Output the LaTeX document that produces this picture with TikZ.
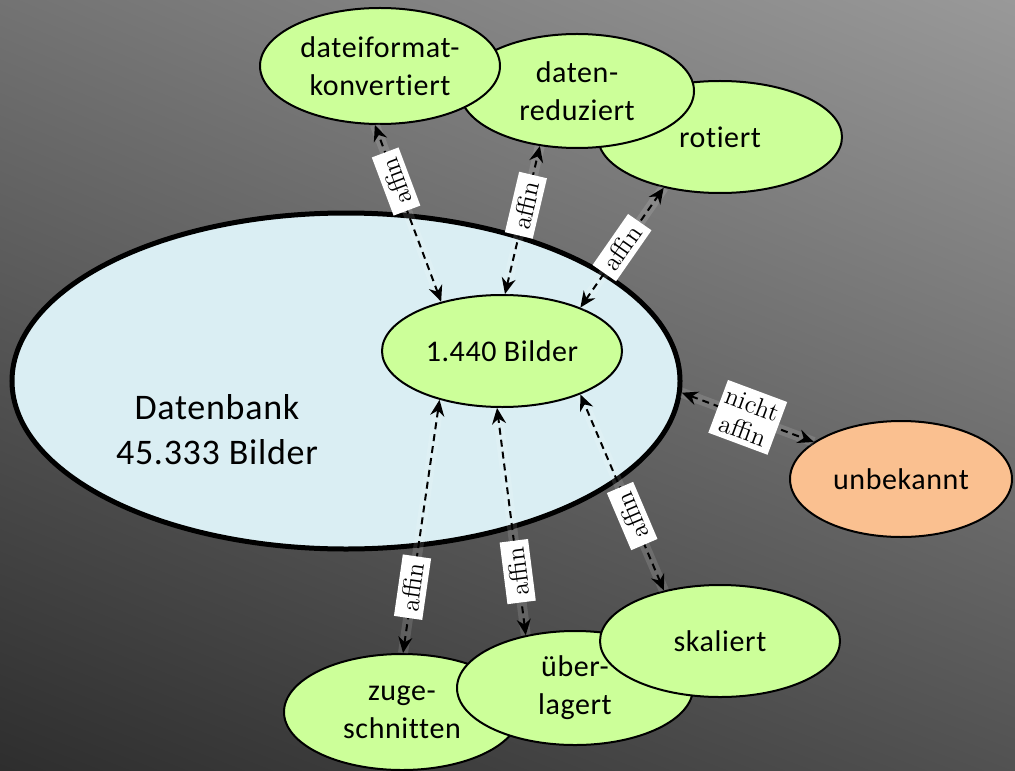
\documentclass[tikz,border=0pt]{standalone}
\usepackage{fontspec}
\newfontfamily\calib[LetterSpace=2,Ligatures=NoCommon]{Carlito}
\usetikzlibrary{arrows.meta,shapes.geometric,shadings}

\definecolor{leafgreen}{RGB}{204,255,153}
\definecolor{dbblue}{RGB}{218,238,243}
\definecolor{peach}{RGB}{250,192,144}

\tikzset{
  blob/.style={ellipse, draw=black, line width=1pt, fill=leafgreen, align=center,
    inner sep=0pt, font=\calib\fontsize{15}{19}\selectfont},
  link/.style={line width=1pt, dash pattern=on 3.5pt off 2.5pt,
    {Stealth[length=8pt,width=7pt]}-{Stealth[length=8pt,width=7pt]},
    preaction={draw=white, opacity=0.12, line width=5pt, solid, arrows=-}},
  tag/.style={fill=white, inner xsep=3.5pt, inner ysep=2.5pt, sloped, allow upside down,
    align=center, font=\fontsize{13}{14}\selectfont}
}

\begin{document}
\begin{tikzpicture}[x=0.5pt,y=-0.5pt]
\useasboundingbox (0,0) rectangle (1015,770);
\shade[upper left=black!55, upper right=black!40, lower left=black!82, lower right=black!68]
  (0,0) rectangle (1015,770);

% database and its subset
\node[ellipse, draw=black, line width=2.5pt, fill=dbblue, minimum width=334pt, minimum height=168pt] (db) at (346,381) {};
\node[font=\calib\fontsize{18}{22.5}\selectfont, align=center] (dbtext) at (217,430) {Datenbank\\45.333 Bilder};
\node[blob, minimum width=120pt, minimum height=56pt] (bilder) at (502,351) {1.440 Bilder};

% upper group
\node[blob, minimum width=122pt, minimum height=56pt] (rot) at (720,137) {rotiert};
\node[blob, minimum width=117pt, minimum height=57pt] (red) at (577,91) {daten-\\reduziert};
\node[blob, minimum width=120pt, minimum height=58pt] (konv) at (380,66) {dateiformat-\\konvertiert};

% lower group
\node[blob, minimum width=118pt, minimum height=58pt] (zug) at (402,712) {zuge-\\schnitten};
\node[blob, minimum width=118pt, minimum height=57pt] (ueber) at (575,688) {über-\\lagert};
\node[blob, minimum width=120pt, minimum height=56pt] (skal) at (720,641) {skaliert};

\node[blob, fill=peach, minimum width=111pt, minimum height=58pt] (unb) at (901,479) {unbekannt};

% relations
\draw[link] (bilder.141) -- node[tag, pos=0.68] (t1) {affin} (konv.-95);
\draw[link] (bilder.87) -- node[tag, pos=0.6] (t2) {affin} (red.-124);
\draw[link] (bilder.29) -- node[tag, pos=0.5] (t3) {affin} (rot.-138);
\draw[link] (zug.89) -- node[tag, pos=0.26] (t4) {affin} (bilder.-142);
\draw[link] (ueber.133) -- node[tag, pos=0.28] (t5) {affin} (bilder.-95);
\draw[link] (skal.138) -- node[tag, pos=0.38] (t6) {affin} (bilder.-29);
\draw[link] (db.-2) -- node[tag, pos=0.5, inner xsep=2pt] (t7) {nicht\\affin} (unb.157);
\end{tikzpicture}
\end{document}
